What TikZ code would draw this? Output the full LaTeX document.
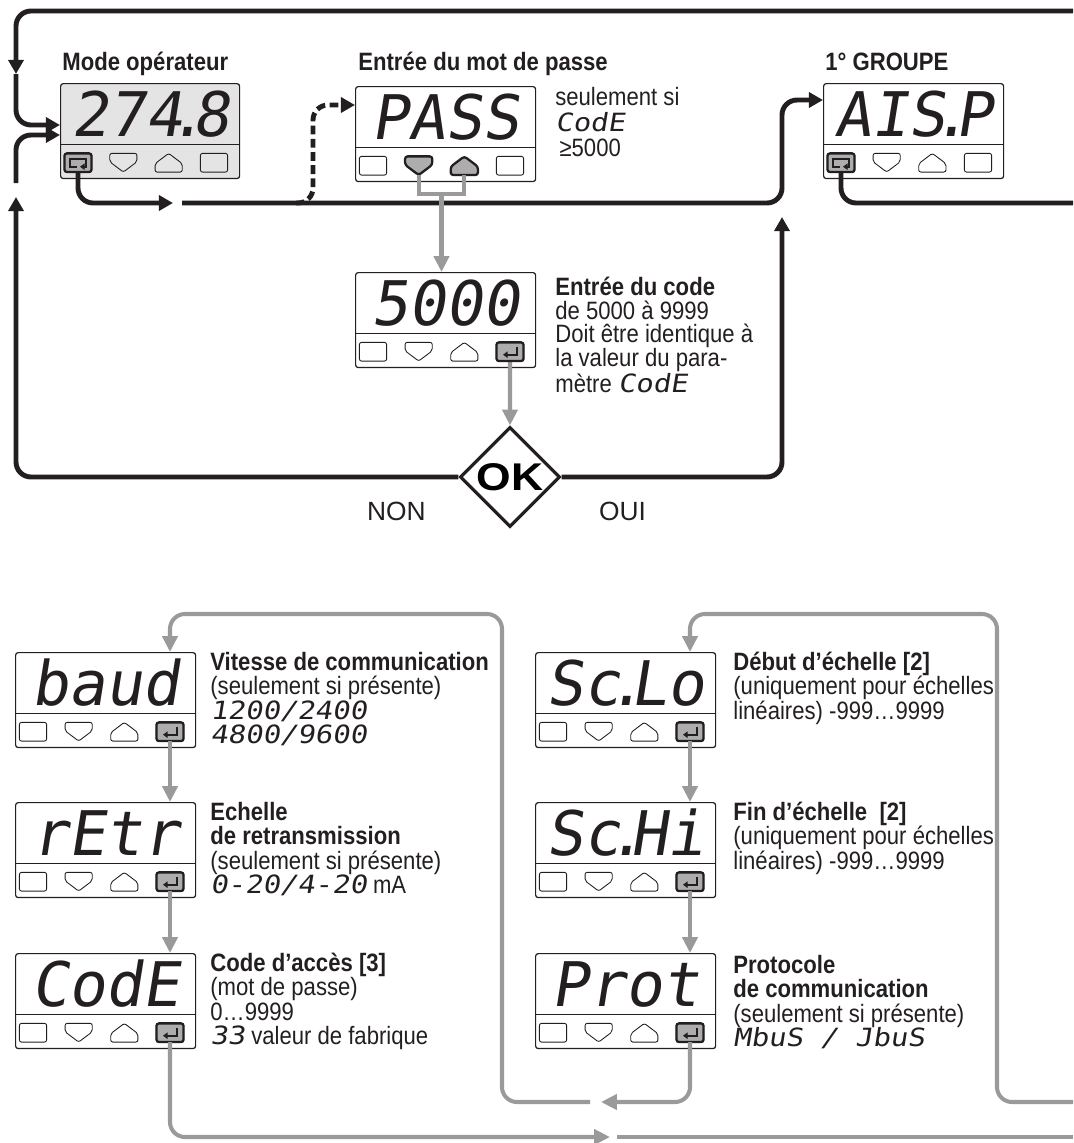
\documentclass[tikz,border=0pt]{standalone}
\usepackage{fontspec}
\setmainfont{Liberation Sans}[FakeStretch=0.88]
\newfontfamily\segfont{DejaVu Sans Mono}[FakeSlant=0.16]
\newfontfamily\segtext{DejaVu Sans Mono}[FakeSlant=0.16, FakeStretch=1.15]
\newfontfamily\okfont{Liberation Sans}[FakeStretch=1.15]
\newfontfamily\widefont{Liberation Sans}
\usepackage{graphicx}
\usetikzlibrary{positioning, arrows.meta, shapes.geometric, calc}

\definecolor{ink}{HTML}{231F20}
\definecolor{linegrey}{HTML}{9A9A9B}
\definecolor{panelgrey}{HTML}{E4E4E4}
\definecolor{keygrey}{HTML}{ADADAD}

\newcommand{\seg}[1]{{\segtext #1}}
\newcommand{\sdot}{\kern-.22em.\kern-.22em}
\newcommand{\tstrut}{\rule{0pt}{13pt}}

% key outlines
\newcommand{\downkey}[2]{\draw[#1] (#2.north west) -- (#2.north east) -- ($(#2.north east)!0.45!(#2.south east)$) -- (#2.south) -- ($(#2.north west)!0.45!(#2.south west)$) -- cycle;}
\newcommand{\upkey}[2]{\draw[#1] (#2.south west) -- (#2.south east) -- ($(#2.south east)!0.45!(#2.north east)$) -- (#2.north) -- ($(#2.south west)!0.45!(#2.north west)$) -- cycle;}
\newcommand{\enterkey}[1]{\draw[keyon] (#1.south west) rectangle (#1.north east);
  \draw[keysym] ($(#1.center)+(7,-5)$) -- ($(#1.center)+(7,3)$) -- ($(#1.center)+(-7,3)$);}
\newcommand{\loopkey}[1]{\draw[keyon] (#1.south west) rectangle (#1.north east);
  \draw[keysym] ($(#1.center)+(-1,4)$) -- ($(#1.center)+(-8,4)$) -- ($(#1.center)+(-8,-4)$) -- ($(#1.center)+(8,-4)$) -- ($(#1.center)+(8,4)$) -- ($(#1.center)+(2,4)$);}

% display with four keys: name, top left corner, width (px), readout, background
\newcommand{\panel}[5]{%
  \node[panel, fill=#5, minimum width=#3*0.02cm, anchor=north west] (#1) at (#2) {};
  \draw[key] ($(#1.north west)+(0,61)$) -- ($(#1.north east)+(0,61)$);
  \node[readout, anchor=base] (#1txt) at ($(#1.north)+(0,53)$) {#4};
  \pgfmathsetmacro\keystep{(#3-43)/3}
  \foreach \i in {1,...,4}
    \node[keyslot] (#1k\i) at ($(#1.south west)+({18+(\i-1)*\keystep},-16.5)$) {};
  \draw[key] (#1k1.south west) rectangle (#1k1.north east);
  \downkey{key}{#1k2}
  \upkey{key}{#1k3}
  \draw[key] (#1k4.south west) rectangle (#1k4.north east);
}

\begin{document}
\begin{tikzpicture}[x=0.02cm, y=-0.02cm,
    font=\fontsize{14.3}{13.9}\selectfont,
    panel/.style={rectangle, draw=ink, line width=0.7pt, rounded corners=1.5pt, minimum height=1.9cm, inner sep=0pt},
    keyslot/.style={rectangle, minimum width=0.53cm, minimum height=0.36cm, inner sep=0pt},
    key/.style={draw=ink, line width=0.5pt, rounded corners=1.2pt},
    keyon/.style={draw=ink, fill=keygrey, line width=1.3pt, rounded corners=1.5pt},
    keysym/.style={draw=ink, line width=0.9pt, sharp corners, -{Triangle[length=2.6pt,width=3.6pt]}},
    readout/.style={font=\segfont\fontsize{35}{35}\selectfont, inner sep=0pt, text=ink},
    head/.style={font=\fontsize{14.3}{13.9}\selectfont\bfseries, inner sep=0pt, text=ink},
    note/.style={anchor=north west, inner sep=0pt, align=left, text=ink},
    okdia/.style={diamond, draw=ink, line width=1.8pt, fill=white, minimum width=2cm, minimum height=2cm, inner sep=0pt, font=\okfont\fontsize{22}{22}\selectfont\bfseries},
    blkline/.style={draw=ink, line width=2.8pt, rounded corners=0.3cm},
    gryline/.style={draw=linegrey, line width=2.3pt, rounded corners=0.3cm},
    dashline/.style={dash pattern=on 5pt off 2.5pt},
    blkarr/.style={-{Triangle[length=8pt,width=8.5pt]}},
    gryarr/.style={-{Triangle[length=9pt,width=8.5pt]}}
]
\useasboundingbox (0,0) rectangle (1073,1143);

% upper part: operator mode and password
\panel{mode}{60,83}{179}{274\sdot 8}{panelgrey}
\panel{pass}{355,86}{180}{PASS}{white}
\panel{grp}{823,83}{180}{AIS\sdot P}{white}
\panel{code}{355,272}{180}{5000}{white}
\loopkey{modek1}
\loopkey{grpk1}
\downkey{keyon}{passk2}
\upkey{keyon}{passk3}

\node[head, anchor=base west] (modettl) at (62,70) {Mode opérateur};
\node[head, anchor=base west] (passttl) at (358,70) {Entrée du mot de passe};
\node[head, anchor=base west] (grpttl) at (825,70) {1° GROUPE};
\node[note, font=\fontsize{14.3}{14.7}\selectfont] (passnote) at (555,82) {\tstrut seulement si\\\seg{CodE}\\\,≥5000};
\node[note, font=\fontsize{14.3}{13.6}\selectfont] (codenote) at (555,272) {\tstrut\textbf{Entrée du code}\\de 5000 à 9999\\Doit être identique à\\la valeur du para-\\mètre \seg{CodE}};

\node[okdia] (ok) at (510,477) {OK};
\node[anchor=base west, text=ink, font=\widefont\fontsize{15}{15}\selectfont] (non) at (361,520) {NON};
\node[anchor=base west, text=ink, font=\widefont\fontsize{15}{15}\selectfont] (oui) at (593,520) {OUI};

\coordinate (topR) at (1073,11);
\coordinate (downmid) at (16,74);
\coordinate (modeinA) at (60,125);
\coordinate (upmid) at (16,197);
\coordinate (upcont) at (16,183);
\coordinate (modeinB) at (60,135);
\coordinate (gapL) at (173,203);
\coordinate (gapR) at (182,203);
\coordinate (dashfoot) at (296,203);
\coordinate (passin) at (355,105);
\coordinate (grpin) at (823,100);
\coordinate (ouitip) at (782,217);
\coordinate (grpR) at (1073,203);

\draw[blkline, blkarr] (topR) -| (downmid);
\draw[blkline, blkarr] (downmid) |- (modeinA);
\draw[blkline, blkarr] (ok.west) -| (upmid);
\draw[blkline, blkarr] (upcont) |- (modeinB);
\draw[blkline, blkarr] (modek1.south) |- (gapL);
\draw[blkline, blkarr] (gapR) -| ($(grpin)+(-41,50)$) |- (grpin);
\draw[blkline, dashline, blkarr] (dashfoot) -| ($(passin)+(-42,45)$) |- (passin);
\draw[blkline, blkarr] (ok.east) -| (ouitip);
\draw[blkline] (grpk1.south) |- (grpR);

\coordinate (passjoin) at ($(passk2.south)!0.5!(passk3.south)+(0,19)$);
\draw[gryline, sharp corners] (passk2.south) |- (passjoin) -| (passk3.south);
\draw[gryline, gryarr] (passjoin) -- (passjoin |- code.north);
\draw[gryline, gryarr] (codek4.south) -- (ok.north);

% lower part: communication parameters
\panel{baud}{15,652}{180}{baud}{white}
\panel{retr}{15,802}{180}{rEtr}{white}
\panel{codeE}{15,953}{180}{CodE}{white}
\panel{sclo}{535,652}{180}{Sc\sdot Lo}{white}
\panel{schi}{535,802}{180}{Sc\sdot Hi}{white}
\panel{prot}{535,953}{180}{Prot}{white}
\foreach \p in {code,baud,retr,codeE,sclo,schi,prot}
  {\enterkey{\p k4}}

\node[note] (baudnote) at (210,647) {\tstrut\textbf{Vitesse de communication}\\(seulement si présente)\\\seg{1200/2400}\\\seg{4800/9600}};
\node[note] (retrnote) at (210,797) {\tstrut\textbf{Echelle}\\\textbf{de retransmission}\\(seulement si présente)\\\seg{0-20/4-20} mA};
\node[note] (codeEnote) at (210,948) {\tstrut\textbf{Code d’accès [3]}\\(mot de passe)\\0…9999\\\seg{33} valeur de fabrique};
\node[note] (sclonote) at (733,647) {\tstrut\textbf{Début d’échelle [2]}\\(uniquement pour échelles\\linéaires) -999…9999};
\node[note] (schinote) at (733,797) {\tstrut\textbf{Fin d’échelle\ \ [2]}\\(uniquement pour échelles\\linéaires) -999…9999};
\node[note] (protnote) at (733,950) {\tstrut\textbf{Protocole}\\\textbf{de communication}\\(seulement si présente)\\\seg{MbuS / JbuS}};

\coordinate (loopLgap) at (590,1102);
\coordinate (loopLtip) at (601,1102);
\coordinate (lowtip) at (610,1137);
\coordinate (lowgap) at (617,1137);
\coordinate (lowR) at (1073,1137);
\coordinate (loopR) at (1073,1102);

\draw[gryline, gryarr] (baudk4.south) -- (baudk4.south |- retr.north);
\draw[gryline, gryarr] (retrk4.south) -- (retrk4.south |- codeE.north);
\draw[gryline, gryarr] (sclok4.south) -- (sclok4.south |- schi.north);
\draw[gryline, gryarr] (schik4.south) -- (schik4.south |- prot.north);
\draw[gryline, gryarr] (loopLgap) -| (502,614) -| (baudk4.south |- baud.north);
\draw[gryline, gryarr] (protk4.south) |- (loopLtip);
\draw[gryline, gryarr] (codeEk4.south) |- (lowtip);
\draw[gryline] (lowgap) -- (lowR);
\draw[gryline, gryarr] (loopR) -| (997,614) -| (sclok4.south |- sclo.north);

\end{tikzpicture}
\end{document}
